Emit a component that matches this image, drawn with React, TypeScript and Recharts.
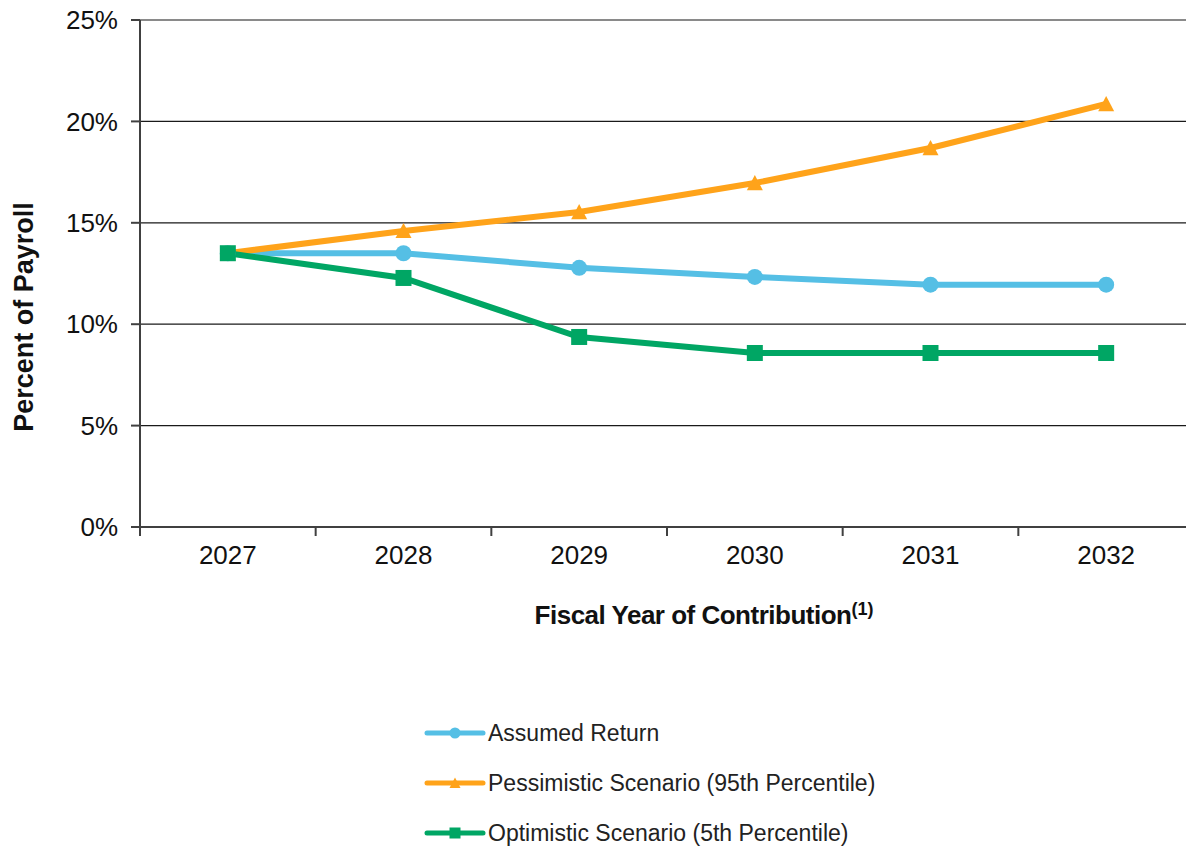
import { LineChart, Line, XAxis, YAxis, CartesianGrid, Legend, ReferenceLine } from 'recharts';

// ---- data ----
const years = ['2027', '2028', '2029', '2030', '2031', '2032'];
const assumedReturn = [13.5, 13.5, 12.78, 12.33, 11.95, 11.95];
const pessimisticScenario = [13.5, 14.6, 15.53, 16.96, 18.69, 20.86];
const optimisticScenario = [13.5, 12.28, 9.37, 8.58, 8.58, 8.58];
const yTicks = [0, 5, 10, 15, 20, 25];

const series = [
    { key: 'assumed', name: 'Assumed Return', color: '#55BFE5', shape: 'circle' },
    { key: 'pessimistic', name: 'Pessimistic Scenario (95th Percentile)', color: '#FFA31A', shape: 'triangle' },
    { key: 'optimistic', name: 'Optimistic Scenario (5th Percentile)', color: '#00A664', shape: 'square' },
];

const data = years.map((year, i) => ({
    year,
    assumed: assumedReturn[i],
    pessimistic: pessimisticScenario[i],
    optimistic: optimisticScenario[i],
}));

const FONT = '"Liberation Sans", Arial, Helvetica, sans-serif';
const CHART_W = 1200;
const CHART_H = 848;
const MARGIN = { top: 20, right: 6, left: 0, bottom: 0 };
const Y_AXIS_W = 140;
const BAND = (CHART_W - MARGIN.right - MARGIN.left - Y_AXIS_W) / years.length;
const AXIS_COLOR = '#404040';

function marker(shape: string, cx: number, cy: number, r: number, color: string, key?: string) {
    if (shape === 'circle') return <circle key={key} cx={cx} cy={cy} r={r} fill={color} />;
    if (shape === 'triangle') {
        const pts = `${cx},${cy - r} ${cx + r},${cy + r * 0.9} ${cx - r},${cy + r * 0.9}`;
        return <polygon key={key} points={pts} fill={color} />;
    }
    return <rect key={key} x={cx - r} y={cy - r} width={r * 2} height={r * 2} fill={color} />;
}

function makeDot(shape: string, color: string) {
    return (props: any) => {
        const { cx, cy, index } = props;
        if (cx == null || cy == null) return <g key={`${shape}-${index}`} />;
        return marker(shape, cx, cy, 8, color, `${shape}-${index}`);
    };
}

// label at the band centre, tick mark at the band's left boundary (Excel "between" style)
function YearTick({ x, y, payload }: any) {
    const lineX = x - BAND / 2;
    return (
        <g>
            <line x1={lineX} x2={lineX} y1={y - 19} y2={y - 10} stroke={AXIS_COLOR} strokeWidth={2} />
            <text x={x} y={y} dy="0.71em" textAnchor="middle" fontSize={26} fill="#111" fontFamily={FONT}>
                {payload.value}
            </text>
        </g>
    );
}

function XTitle({ viewBox }: any) {
    const cx = viewBox.x + viewBox.width / 2 + 37;
    return (
        <text x={cx} y={viewBox.y + 97} textAnchor="middle" fontFamily={FONT} fontWeight="bold" fill="#111">
            <tspan fontSize={26} letterSpacing={-0.5}>Fiscal Year of Contribution</tspan>
            <tspan fontSize={18} dy={-9}>(1)</tspan>
        </text>
    );
}

function YTitle() {
    return (
        <text
            x={24}
            y={317}
            transform="rotate(-90 24 317)"
            textAnchor="middle"
            dominantBaseline="central"
            fontFamily={FONT}
            fontWeight="bold"
            fontSize={27}
            fill="#111"
        >
            Percent of Payroll
        </text>
    );
}

function LegendContent({ payload }: any) {
    const items = payload || [];
    return (
        <div style={{ fontFamily: FONT, fontSize: 23, color: '#222' }}>
            {series.map((s) => {
                const entry = items.find((p: any) => p.dataKey === s.key);
                if (!entry) return null;
                return (
                    <div key={s.key} style={{ display: 'flex', alignItems: 'center', height: 50 }}>
                        <svg width={62} height={20} style={{ display: 'block' }}>
                            <line x1={3} x2={59} y1={10} y2={10} stroke={entry.color} strokeWidth={5} strokeLinecap="round" />
                            {marker(s.shape, 31, 10, 5.5, entry.color)}
                        </svg>
                        <span style={{ marginLeft: 2, whiteSpace: 'nowrap' }}>{entry.value}</span>
                    </div>
                );
            })}
        </div>
    );
}

export default function App() {
    return (
        <div style={{ position: 'absolute', left: 0, top: 0, width: 1186, height: CHART_H, overflow: 'hidden', background: '#fff' }}>
            <LineChart width={CHART_W} height={CHART_H} data={data} margin={MARGIN} style={{ fontFamily: FONT }}>
                <CartesianGrid vertical={false} stroke="#1a1a1a" strokeWidth={1.3} />
                <ReferenceLine y={25} stroke="#8a8a8a" strokeWidth={2} />
                <XAxis
                    dataKey="year"
                    scale="band"
                    height={CHART_H - 527}
                    interval={0}
                    tickLine={false}
                    tickSize={9}
                    tickMargin={10}
                    tick={<YearTick />}
                    axisLine={{ stroke: AXIS_COLOR, strokeWidth: 2 }}
                    label={<XTitle />}
                />
                <YAxis
                    width={Y_AXIS_W}
                    domain={[0, 25]}
                    ticks={yTicks}
                    interval={0}
                    tickFormatter={(v) => `${v}%`}
                    tick={{ fontSize: 26, fill: '#111', fontFamily: FONT }}
                    tickSize={9}
                    tickMargin={13}
                    tickLine={{ stroke: AXIS_COLOR, strokeWidth: 2 }}
                    axisLine={{ stroke: AXIS_COLOR, strokeWidth: 2 }}
                    label={<YTitle />}
                />
                <Legend
                    layout="vertical"
                    align="center"
                    verticalAlign="middle"
                    content={<LegendContent />}
                    wrapperStyle={{ top: 708, left: 424, width: 'auto' }}
                />
                {series.map((s) => (
                    <Line
                        key={s.key}
                        type="linear"
                        dataKey={s.key}
                        name={s.name}
                        stroke={s.color}
                        strokeWidth={6}
                        dot={makeDot(s.shape, s.color)}
                        activeDot={false}
                        legendType="line"
                        isAnimationActive={false}
                    />
                ))}
            </LineChart>
        </div>
    );
}
